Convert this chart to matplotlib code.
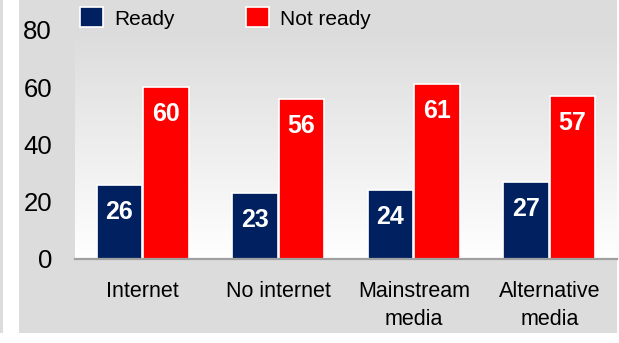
import matplotlib
matplotlib.use('Agg')
import matplotlib.pyplot as plt
import numpy as np
from matplotlib.patches import Rectangle
from matplotlib.colors import LinearSegmentedColormap

categories = ['Internet', 'No internet', 'Mainstream\nmedia', 'Alternative\nmedia']
ready = [26, 23, 24, 27]
not_ready = [60, 56, 61, 57]
series_names = ['Ready', 'Not ready']
series_colors = ['#002060', '#ff0000']
yticks = [0, 20, 40, 60, 80]

W, H = 619, 343
fig = plt.figure(figsize=(W / 100, H / 100), dpi=100, facecolor='white')

def fr(x0, y0, x1, y1):
    return (x0 / W, 1 - y1 / H, (x1 - x0) / W, (y1 - y0) / H)

bg = '#dcdcdc'
for (x0, y0, x1, y1) in [(19, 0, 617, 333), (0, 0, 3, 333)]:
    l, b, w, h = fr(x0, y0, x1, y1)
    fig.patches.append(Rectangle((l, b), w, h, transform=fig.transFigure,
                                 facecolor=bg, edgecolor='none', zorder=-10))

ax = fig.add_axes(fr(75, 30, 617, 259))
ax.set_facecolor('none')
cmap = LinearSegmentedColormap.from_list('g', ['#dcdcdc', '#ffffff'])
ax.imshow(np.linspace(0, 1, 256).reshape(-1, 1), extent=[-0.5, 3.5, 0, 80],
          aspect='auto', cmap=cmap, origin='upper', zorder=0)

x = np.arange(len(categories))
bw = 0.335
off = 0.1725
b1 = ax.bar(x - off, ready, bw, color=series_colors[0], edgecolor='white',
            linewidth=1.2, label=series_names[0], zorder=2)
b2 = ax.bar(x + off, not_ready, bw, color=series_colors[1], edgecolor='white',
            linewidth=1.2, label=series_names[1], zorder=2)

for bars, vals in [(b1, ready), (b2, not_ready)]:
    for rect, v in zip(bars, vals):
        ax.annotate(str(v), (rect.get_x() + rect.get_width() / 2, v),
                    xytext=(0, -19.5), textcoords='offset points',
                    ha='center', va='center', color='white',
                    fontsize=18, fontweight='bold',
                    family=['Liberation Sans', 'DejaVu Sans'], zorder=3)

ax.set_xlim(-0.5, 3.5)
ax.set_ylim(0, 80)
ax.set_yticks(yticks)
ax.set_yticklabels([str(t) for t in yticks], fontsize=18.5,
                   family=['Liberation Sans', 'DejaVu Sans'])
ax.set_xticks(x)
ax.set_xticklabels(categories, fontsize=15.5, linespacing=1.45,
                   family=['Liberation Sans', 'DejaVu Sans'])
ax.tick_params(axis='both', length=0, colors='black')
ax.tick_params(axis='y', pad=16.5)
ax.tick_params(axis='x', pad=16)
for s in ['top', 'right', 'left']:
    ax.spines[s].set_visible(False)
ax.spines['bottom'].set_color('#a0a0a0')
ax.spines['bottom'].set_linewidth(1.6)
ax.spines['bottom'].set_zorder(4)

leg = fig.legend(handles=[b1, b2], labels=series_names, loc='center left',
                 bbox_to_anchor=(80 / W, 1 - 18 / H), ncol=2, frameon=False,
                 prop={'family': ['Liberation Sans', 'DejaVu Sans'], 'size': 15},
                 handlelength=1.1, handleheight=1.1, handletextpad=0.55,
                 columnspacing=3.4, borderpad=0, borderaxespad=0)

fig.savefig('out.png', dpi=100, facecolor='white')
